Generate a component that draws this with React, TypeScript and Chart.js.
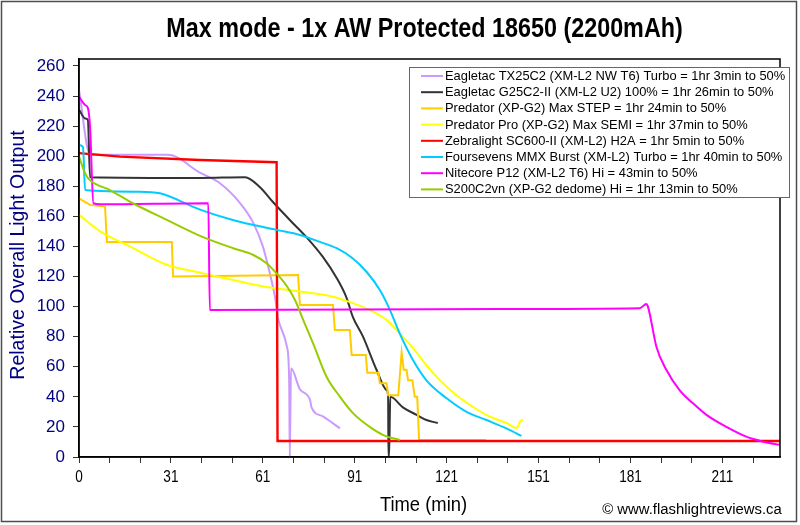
import React, { useEffect, useRef } from 'react';
import { Chart, registerables } from 'chart.js';

Chart.register(...registerables);

const FONT = "'Liberation Sans', Arial, Helvetica, sans-serif";

const chartTitle = 'Max mode - 1x AW Protected 18650 (2200mAh)';
const yAxisTitle = 'Relative Overall Light Output';
const xAxisTitle = 'Time (min)';
const creditText = '\u00A9 www.flashlightreviews.ca';

const seriesNames = [
  'Eagletac TX25C2 (XM-L2 NW T6) Turbo = 1hr 3min to 50%',
  'Eagletac G25C2-II (XM-L2 U2) 100% = 1hr 26min to 50%',
  'Predator (XP-G2) Max STEP = 1hr 24min to 50%',
  'Predator Pro (XP-G2) Max SEMI = 1hr 37min to 50%',
  'Zebralight SC600-II (XM-L2) H2A = 1hr 5min to 50%',
  'Foursevens MMX Burst (XM-L2) Turbo = 1hr 40min to 50%',
  'Nitecore P12 (XM-L2 T6) Hi = 43min to 50%',
  'S200C2vn (XP-G2 dedome) Hi = 1hr 13min to 50%',
];
const seriesColors = ['#cc99ff', '#333333', '#ffcc00', '#ffff00', '#ff0000', '#00ccff', '#ff00ff', '#99cc00'];

const yTickValues = [0, 20, 40, 60, 80, 100, 120, 140, 160, 180, 200, 220, 240, 260];
const xTickValues = [0, 10, 20, 30, 40, 50, 60, 70, 80, 90, 100, 110, 120, 130, 140, 150, 160, 170, 180, 190, 200, 210, 220];
const xTickLabels = ['0', '31', '61', '91', '121', '151', '181', '211'];

const tx25c2Time = [0, 3.6, 29, 39.5, 46, 52.5, 56.8, 60, 62.3, 64, 65, 67.9, 68.6, 68.8, 69.2, 72.1, 75.4, 75.9, 79.6, 82.5, 85.2];
const tx25c2Output = [244, 201, 201, 189, 182, 169, 156, 140, 122, 106, 92, 73, 51, 0, 59, 45, 38, 33, 27, 23, 19];

const g25c2Time = [0, 2, 2.9, 3.6, 39.5, 54.2, 59, 63.3, 68.8, 74.3, 79.6, 84.1, 87.3, 89.4, 92.7, 97.1, 100.4, 100.9, 101, 101.2, 101.6, 105.7, 110.2, 113.4, 117.1];
const g25c2Output = [231, 225, 224, 186, 185.5, 186, 179.5, 169.5, 157.6, 146, 133, 119, 106, 93, 80, 58, 44.5, 40, 0, 0, 40, 33, 28, 24.6, 22.6];

const predatorStepTime = [0, 3.6, 8.5, 9.1, 30.3, 30.7, 71.5, 72.1, 82.9, 83.5, 88.4, 89, 93.6, 94.1, 97.7, 98.2, 100.4, 100.9, 104.2, 105.3, 106, 106.9, 107.4, 108.8, 109.6, 110.4, 111, 132.8];
const predatorStepOutput = [172, 167.6, 166.5, 143, 143, 120, 121, 101, 101, 84.4, 84.4, 67.8, 67.8, 56, 56, 49, 49, 41, 41, 69.3, 58, 58, 51, 51, 40, 40, 11.3, 11.3];

const predatorProTime = [0, 6.9, 16.6, 28.4, 39.5, 50.2, 61.2, 72.1, 82.9, 88.4, 94.9, 100.4, 104.7, 109, 113.4, 117.8, 123.2, 128.5, 134.1, 139.5, 142.9, 143.9, 144.9];
const predatorProOutput = [161, 150, 140, 128, 122.5, 117.7, 113, 110, 106.6, 103, 97.7, 91, 82, 72.5, 61, 51, 41, 33.4, 26.8, 22.6, 19.3, 23.3, 25];

const zebraTime = [0, 13.4, 39.5, 64.5, 64.8, 229];
const zebraOutput = [202, 199.7, 197.5, 196, 10.6, 10.6];

const foursevensTime = [0, 1.3, 2, 19.9, 26.4, 39.5, 50.2, 64.5, 72.1, 78.6, 84.1, 89.4, 93.9, 98.2, 101.5, 104.7, 109, 113.4, 120, 126.5, 133, 139.5, 144.4];
const foursevensOutput = [207.4, 206, 177.5, 176.4, 175.3, 164.5, 157.6, 151, 147.6, 143, 138.8, 132, 123, 111, 97.7, 82, 64.5, 51, 39, 30, 24.6, 19, 14];

const nitecoreTime = [0, 2, 2.9, 3.6, 4.7, 6.9, 42.2, 42.7, 137.4, 183, 185.2, 185.7, 188.5, 191.7, 196, 200.4, 204.8, 211.3, 217.8, 223.3, 229];
const nitecoreOutput = [239.5, 234, 232, 219.6, 168.7, 168, 168.7, 97.7, 98.4, 98.9, 101.7, 100, 73, 58, 44.5, 35.7, 28, 20, 13.5, 10.2, 8];

const s200Time = [0, 2, 3.6, 10.1, 17.6, 28.7, 39.5, 50.3, 56.9, 61.2, 64.5, 67.7, 70.5, 73.2, 76.4, 80.8, 85.2, 89.5, 94.9, 99.3, 104.7];
const s200Output = [199.7, 188.6, 184, 177.5, 168.7, 157.6, 147, 138.8, 134.3, 128.8, 122, 114, 104.4, 91, 75.6, 53.4, 40, 29, 20, 14.6, 11.3];

const seriesTimes = [tx25c2Time, g25c2Time, predatorStepTime, predatorProTime, zebraTime, foursevensTime, nitecoreTime, s200Time];
const seriesOutputs = [tx25c2Output, g25c2Output, predatorStepOutput, predatorProOutput, zebraOutput, foursevensOutput, nitecoreOutput, s200Output];
const steppedSeries = [false, false, true, false, true, false, false, false];

function drawNarrow(ctx: CanvasRenderingContext2D, text: string, x: number, y: number, font: string, sx: number, color: string) {
  ctx.save();
  ctx.font = font;
  ctx.fillStyle = color;
  ctx.textAlign = 'center';
  ctx.textBaseline = 'middle';
  ctx.translate(x, y);
  ctx.scale(sx, 1);
  ctx.fillText(text, 0, 0);
  ctx.restore();
}

const decorPlugin = {
  id: 'decor',
  beforeDraw(chart: any) {
    const { ctx, width, height } = chart;
    ctx.save();
    ctx.fillStyle = '#ffffff';
    ctx.fillRect(0, 0, width, height);
    ctx.restore();
  },
  afterDraw(chart: any) {
    const { ctx, chartArea: a } = chart;
    const xs = chart.scales.x;
    ctx.save();
    ctx.strokeStyle = '#000000';
    ctx.lineWidth = 1.5;
    ctx.strokeRect(a.left, a.top, a.right - a.left, a.bottom - a.top);
    ctx.strokeStyle = '#4d4d4d';
    ctx.lineWidth = 1.5;
    ctx.strokeRect(1.5, 1.5, 795, 520);
    ctx.restore();

    drawNarrow(ctx, chartTitle, (a.left + a.right) / 2 - 5, 30, `bold 27px ${FONT}`, 0.865, '#000000');

    xTickValues.forEach((v) => {
      if (v % 30 !== 0) return;
      const label = xTickLabels[v / 30];
      if (label === undefined) return;
      drawNarrow(ctx, label, xs.getPixelForValue(v), 478, `16px ${FONT}`, 0.85, '#000000');
    });

    drawNarrow(ctx, xAxisTitle, (a.left + a.right) / 2 - 6, 505, `20px ${FONT}`, 0.92, '#000000');
    drawNarrow(ctx, creditText, 692, 510, `15.5px ${FONT}`, 0.96, '#000000');

    ctx.save();
    ctx.translate(19, (a.top + a.bottom) / 2 - 3);
    ctx.rotate(-Math.PI / 2);
    ctx.font = `19.5px ${FONT}`;
    ctx.fillStyle = '#000080';
    ctx.textAlign = 'center';
    ctx.textBaseline = 'middle';
    ctx.fillText(yAxisTitle, 0, 0);
    ctx.restore();

    const lx = 409, ly = 67, lw = 380, lh = 130;
    ctx.save();
    ctx.fillStyle = '#ffffff';
    ctx.fillRect(lx, ly, lw, lh);
    ctx.strokeStyle = '#666666';
    ctx.lineWidth = 1;
    ctx.strokeRect(lx + 0.5, ly + 0.5, lw, lh);
    ctx.font = `12.9px ${FONT}`;
    ctx.textAlign = 'left';
    ctx.textBaseline = 'middle';
    seriesNames.forEach((name, i) => {
      const y = ly + 9 + i * 16.2;
      ctx.strokeStyle = seriesColors[i];
      ctx.lineWidth = 2;
      ctx.beginPath();
      ctx.moveTo(lx + 12, y);
      ctx.lineTo(lx + 34, y);
      ctx.stroke();
      ctx.fillStyle = '#000000';
      ctx.fillText(name, lx + 36, y + 0.5);
    });
    ctx.restore();
  },
};

export default function App() {
  const canvasRef = useRef<HTMLCanvasElement | null>(null);

  useEffect(() => {
    const canvas = canvasRef.current;
    if (!canvas) return;
    const datasets = seriesNames.map((name, i) => ({
      label: name,
      data: seriesTimes[i].map((t, k) => ({ x: t, y: seriesOutputs[i][k] })),
      borderColor: seriesColors[i],
      backgroundColor: seriesColors[i],
      borderWidth: i === 4 ? 2.4 : 2,
      pointRadius: 0,
      fill: false,
      cubicInterpolationMode: steppedSeries[i] ? 'default' : 'monotone',
      tension: 0,
      order: -i,
    }));

    const chart = new Chart(canvas, {
      type: 'line',
      data: { datasets } as any,
      options: {
        responsive: false,
        animation: false,
        events: [],
        layout: { padding: { left: 0, top: 59, right: 20, bottom: 0 } },
        plugins: {
          legend: { display: false },
          title: { display: false },
          tooltip: { enabled: false },
        },
        scales: {
          x: {
            type: 'linear',
            min: 0,
            max: 228.8,
            afterBuildTicks: (scale: any) => {
              scale.ticks = xTickValues.map((v) => ({ value: v }));
            },
            afterFit: (scale: any) => {
              scale.height = 68;
            },
            ticks: {
              display: true,
              autoSkip: false,
              maxRotation: 0,
              callback: () => '',
            },
            grid: {
              drawOnChartArea: false,
              drawTicks: true,
              tickLength: 6,
              color: '#333333',
              lineWidth: 1,
            },
            border: { display: true, color: '#000000', width: 1.5 },
          },
          y: {
            type: 'linear',
            min: 0,
            max: 264.6,
            afterBuildTicks: (scale: any) => {
              scale.ticks = yTickValues.map((v) => ({ value: v }));
            },
            afterFit: (scale: any) => {
              scale.width = 79;
            },
            ticks: {
              autoSkip: false,
              padding: 8,
              color: '#000080',
              font: { family: FONT, size: 17 },
              callback: (v: any) => String(v),
            },
            grid: {
              drawOnChartArea: false,
              drawTicks: true,
              tickLength: 6,
              color: '#333333',
              lineWidth: 1,
            },
            border: { display: true, color: '#000000', width: 1.5 },
          },
        },
      } as any,
      plugins: [decorPlugin],
    });
    return () => chart.destroy();
  }, []);

  return (
    <div style={{ position: 'fixed', left: 0, top: 0, width: 800, height: 525, background: '#ffffff' }}>
      <canvas ref={canvasRef} width={800} height={525} style={{ display: 'block', width: 800, height: 525 }} />
    </div>
  );
}
